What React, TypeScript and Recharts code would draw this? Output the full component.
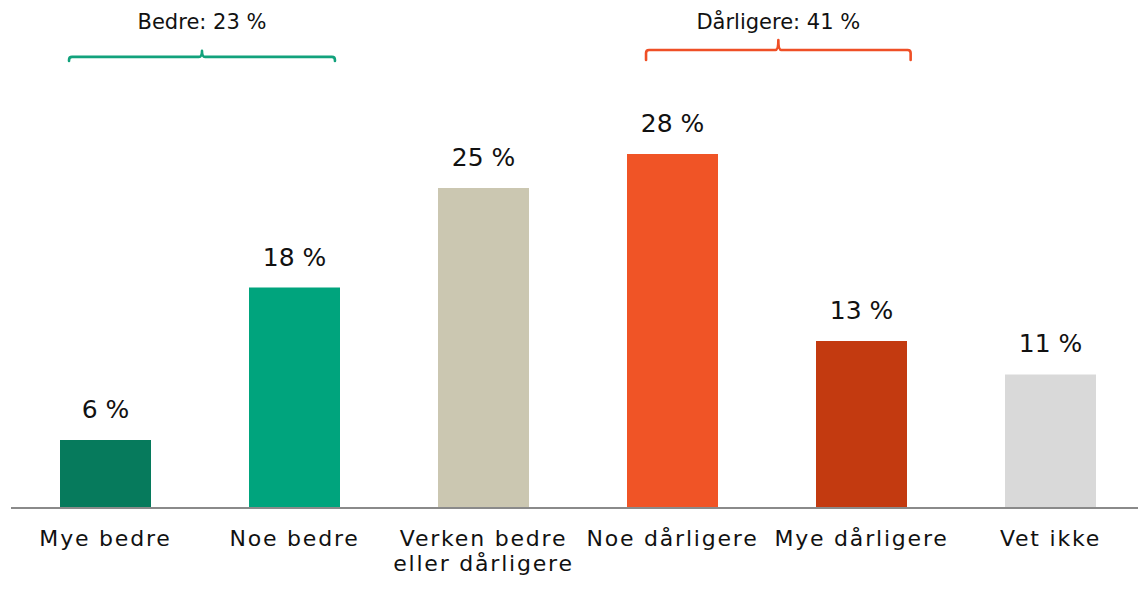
import { BarChart, Bar, XAxis, YAxis, Cell, LabelList, ReferenceLine } from 'recharts'

// Survey answer categories (multi-line labels split on |)
const categories = ['Mye bedre', 'Noe bedre', 'Verken bedre|eller dårligere', 'Noe dårligere', 'Mye dårligere', 'Vet ikke']
// Share in percent
const shares = [5.4, 17.5, 25.4, 28.1, 13.25, 10.6]
// Printed value labels
const valueLabels = ['6 %', '18 %', '25 %', '28 %', '13 %', '11 %']
const barColors = ['#067a5c', '#00a47d', '#cbc7b1', '#f05426', '#c33a10', '#d9d9d9']

// Group brackets over the categories (x in band units on a hidden numeric axis, band i = [i, i+1])
const brackets = [
  { label: 'Bedre: 23 %', from: 0.307, to: 1.714, level: 35.8, color: '#12a27c', hookDown: 4, hookUp: 6, textGap: 28 },
  { label: 'Dårligere: 41 %', from: 3.36, to: 4.76, level: 36.35, color: '#ef4f26', hookDown: 10, hookUp: 10, textGap: 21 },
]

const FONT = '"DejaVu Sans", sans-serif'

const chartData = categories.map((name, i) => ({ name, pos: i + 0.5, share: shares[i], label: valueLabels[i] }))

function CategoryTick({ x, y, payload }: { x?: number; y?: number; payload?: { value: string } }) {
  const lines = String(payload?.value ?? '').split('|')
  return (
    <text x={x} y={(y ?? 0) + 30} textAnchor="middle" fontFamily={FONT} fontSize={22} letterSpacing={1.8} fill="#111">
      {lines.map((line, i) => (
        <tspan key={i} x={x} dy={i === 0 ? 0 : 25}>
          {line}
        </tspan>
      ))}
    </text>
  )
}

function ValueLabel(props: { x?: number; y?: number; width?: number; value?: string }) {
  const { x = 0, y = 0, width = 0, value } = props
  return (
    <text x={x + width / 2} y={y - 22} textAnchor="middle" fontFamily={FONT} fontSize={25} fill="#111">
      {value}
    </text>
  )
}

function bracketShape(b: (typeof brackets)[number]) {
  return (props: { x1?: number; x2?: number; y1?: number }) => {
    const x1 = props.x1 ?? 0
    const x2 = props.x2 ?? 0
    const y = props.y1 ?? 0
    const mid = (x1 + x2) / 2
    const r = 3
    const d = [
      `M${x1},${y + b.hookDown}`,
      `L${x1},${y + r}`,
      `Q${x1},${y} ${x1 + r},${y}`,
      `L${mid - r},${y}`,
      `Q${mid},${y} ${mid},${y - b.hookUp}`,
      `Q${mid},${y} ${mid + r},${y}`,
      `L${x2 - r},${y}`,
      `Q${x2},${y} ${x2},${y + r}`,
      `L${x2},${y + b.hookDown}`,
    ].join(' ')
    return (
      <g>
        <path d={d} fill="none" stroke={b.color} strokeWidth={2.6} strokeLinecap="round" strokeLinejoin="round" />
        <text x={mid} y={y - b.textGap} textAnchor="middle" fontFamily={FONT} fontSize={21} fill="#111">
          {b.label}
        </text>
      </g>
    )
  }
}

export default function App() {
  return (
    <div style={{ position: 'absolute', left: 0, top: 0, width: 1138, height: 591, overflow: 'hidden', background: '#fff' }}>
      <BarChart width={1146} height={591} data={chartData} margin={{ top: 4, right: 1, bottom: 0, left: 11 }} barSize={91}>
        <XAxis
          dataKey="name"
          axisLine={{ stroke: '#8a8a8a', strokeWidth: 2 }}
          tickLine={false}
          tick={<CategoryTick />}
          interval={0}
          height={83}
        />
        <XAxis
          xAxisId="n"
          dataKey="pos"
          type="number"
          domain={[0, 6]}
          ticks={[0, 1, 2, 3, 4, 5, 6]}
          hide
          allowDataOverflow
        />
        <YAxis hide domain={[0, 40]} />
        <Bar dataKey="share" isAnimationActive={false}>
          {chartData.map((_, i) => (
            <Cell key={i} fill={barColors[i]} />
          ))}
          <LabelList dataKey="label" content={<ValueLabel />} />
        </Bar>
        {brackets.map((b) => (
          <ReferenceLine
            key={b.label}
            xAxisId="n"
            segment={[
              { x: b.from, y: b.level },
              { x: b.to, y: b.level },
            ]}
            ifOverflow="visible"
            shape={bracketShape(b)}
          />
        ))}
      </BarChart>
    </div>
  )
}
